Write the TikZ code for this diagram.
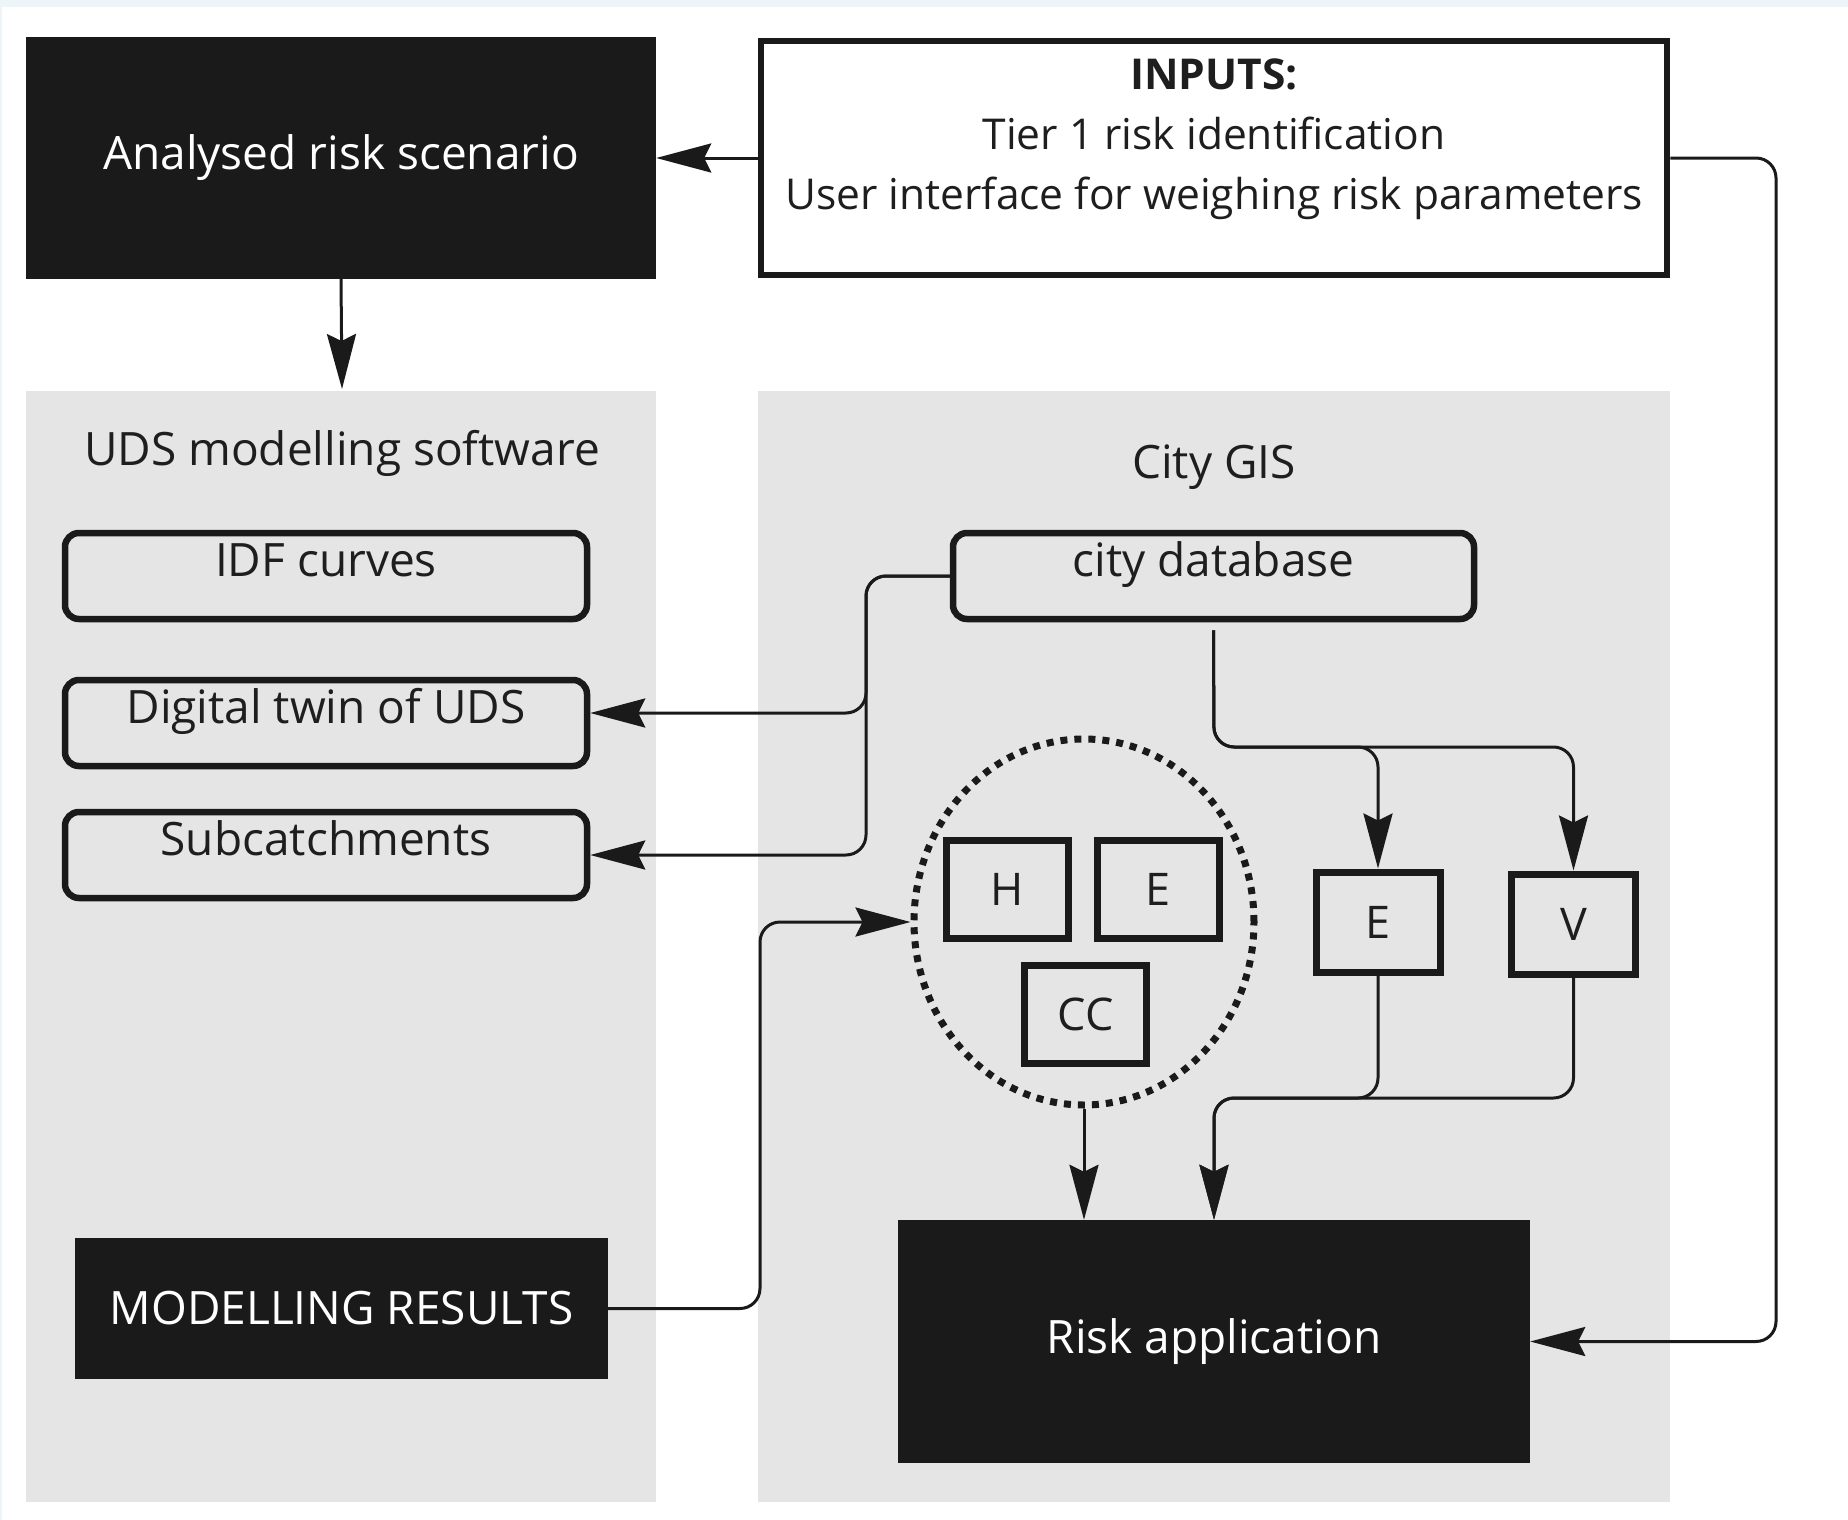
\documentclass[tikz,border=0pt]{standalone}
\usepackage{fontspec}
\setmainfont{Open Sans}
\usetikzlibrary{shapes.geometric,arrows.meta}
\definecolor{panelgrey}{HTML}{E5E5E5}
\definecolor{boxblack}{HTML}{1A1A1A}
\definecolor{inkdark}{HTML}{1E1E1E}
\definecolor{stripblue}{HTML}{EDF5F9}
\tikzset{
  every node/.style={font=\fontsize{46}{60}\selectfont, text=inkdark},
  blackbox/.style={fill=boxblack, draw=none, text=white},
  rbox/.style={draw=boxblack, line width=6.5pt, rounded corners=14pt, inner sep=0pt,
    minimum width=522pt, minimum height=86pt, text height=30pt, text depth=30pt, anchor=center},
  sqbox/.style={draw=boxblack, line width=7pt, inner sep=0pt, minimum width=122pt, minimum height=98pt,
    font=\fontsize{45}{54}\selectfont},
  conn/.style={draw=boxblack, line width=3pt, rounded corners=20pt},
  arr/.style={conn, -{Stealth[length=55pt, width=29pt, inset=7pt]}},
}
\begin{document}
\begin{tikzpicture}[x=1pt, y=-1pt]
\useasboundingbox (0,0) rectangle (1848,1520);
\fill[white] (0,0) rectangle (1848,1520);
\fill[stripblue] (0,0) rectangle (1848,7);
\fill[stripblue] (0,0) rectangle (2,1520);

% panels
\fill[panelgrey] (26,391) rectangle (656,1502);
\fill[panelgrey] (758,391) rectangle (1670,1502);
\node (udslab) at (342,453) {UDS modelling software};
\node (gislab) at (1214,467) {City GIS};

% top row
\node[blackbox, minimum width=630pt, minimum height=242pt] (ars) at (341,158) {Analysed risk scenario};
\node[draw=boxblack, line width=6.5pt, minimum width=906pt, minimum height=234pt] (inputs) at (1214,158) {};
\node[align=center, font=\fontsize{42.5}{60}\selectfont] (inputstxt) at (1214,139)
  {\textbf{INPUTS:}\\Tier 1 risk identification\\User interface for weighing risk parameters};

% left panel boxes
\node[rbox] (idf) at (326,576) {IDF curves};
\node[rbox] (twin) at (326,723) {Digital twin of UDS};
\node[rbox] (sub) at (326,855) {Subcatchments};
\node[blackbox, minimum width=533pt, minimum height=141pt] (mr) at (341.5,1308.5) {MODELLING RESULTS};

% right panel
\node[rbox, minimum width=521pt] (cdb) at (1213.5,576) {city database};
\node[draw=boxblack, line width=7pt, dash pattern=on 7pt off 7pt, ellipse,
  minimum width=340pt, minimum height=366pt] (ell) at (1084,922) {};
\node[sqbox] (h) at (1007,889) {H};
\node[sqbox] (e1) at (1158,889) {E};
\node[sqbox] (cc) at (1085.5,1014.5) {CC};
\node[sqbox, minimum width=124pt, minimum height=100pt] (e2) at (1378,922) {E};
\node[sqbox, minimum width=124pt, minimum height=100pt] (v) at (1573.5,924) {V};
\node[blackbox, minimum width=632pt, minimum height=243pt] (ra) at (1214,1341.5) {Risk application};

% routing points
\coordinate (lptop) at (342,389);
\coordinate (rr) at (1776,0);
\coordinate (lc) at (866,0);
\coordinate (split) at (1214,747);
\coordinate (join) at (1214,1098);
\coordinate (mc) at (760,0);

% connectors
\draw[arr] (inputs.west) -- (ars.east);
\draw[arr] (ars.south) -- (lptop);
\draw[arr] (inputs.east) -- (rr |- inputs.east) -- (rr |- ra.east) -- (ra.east);
\draw[arr] (cdb.west) -- (lc |- cdb.west) -- (lc |- 0,713) -- (twin.east |- 0,713);
\draw[arr] (cdb.west) -- (lc |- cdb.west) -- (lc |- sub.east) -- (sub.east);
\draw[arr] ([yshift=-8pt]cdb.south) -- (split) -| (e2.north);
\draw[arr] ([yshift=-8pt]cdb.south) -- (split) -| (v.north);
\draw[arr] (mr.east) -- (mc |- mr.east) -- (mc |- ell.west) -- (ell.west);
\draw[arr] (ell.south) -- (ell.south |- ra.north);
\draw[arr] (e2.south) -- (e2.south |- join) -- (join) -- (ra.north);
\draw[arr] (v.south) -- (v.south |- join) -- (join) -- (ra.north);
\end{tikzpicture}
\end{document}
